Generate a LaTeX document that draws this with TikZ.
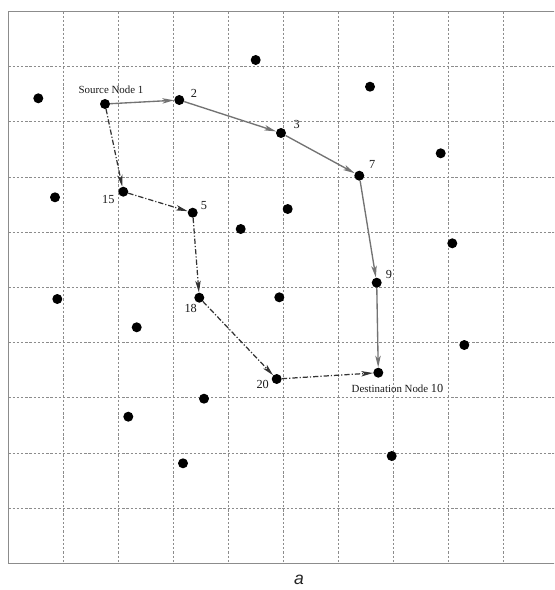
\documentclass[tikz,border=0pt]{standalone}
\usepackage{fontspec}
\setmainfont{Liberation Serif}
\setsansfont{Liberation Sans}
\usetikzlibrary{arrows.meta}

\begin{document}
\begin{tikzpicture}[x=0.03cm,y=-0.03cm,>={Stealth[length=10pt,width=4.6pt,inset=2.5pt]},
  dot/.style={circle,fill=black,inner sep=0pt,minimum size=0.3cm},
  gridline/.style={draw=black!45,line width=0.95pt,dash pattern=on 2pt off 1.6pt},
  greypath/.style={->,draw=black!55,line width=1.15pt},
  dotpath/.style={->,draw=black!80,line width=1.05pt,dash pattern=on 4.5pt off 1.7pt on 1pt off 1.7pt},
  lbl/.style={inner sep=0pt,text=black!90,font=\fontsize{9.3}{10}\selectfont},
  num/.style={inner sep=0pt,text=black!90,font=\fontsize{10.5}{12}\selectfont}]
  \def\s{55}      % grid step (x)
  \def\t{55.2}    % grid step (y)

  \useasboundingbox (0,0) rectangle (554,590);

  % ================= grid and frame =================
  \begin{scope}
    \clip (0,0) rectangle (554,590);
    \foreach \i in {1,...,9}
      \draw[gridline] ({8.3+\s*\i},11.5) -- ({8.3+\s*\i},563.5);
    \foreach \i in {1,...,9}
      \draw[gridline] (8.3,{11.5+\t*\i}) -- (558.3,{11.5+\t*\i});
    \draw[black!45,line width=1.1pt] (8.3,11.5) rectangle (558.3,563.5);
  \end{scope}

  % ================= sensor nodes =================
  \node[dot] (n1)  at (105,104) {};
  \node[dot] (n2)  at (179.3,100) {};
  \node[dot] (n3)  at (281,133) {};
  \node[dot] (n7)  at (359.3,175.7) {};
  \node[dot] (n9)  at (376.7,282.7) {};
  \node[dot] (n10) at (378.3,372.7) {};
  \node[dot] (n15) at (123.3,191.7) {};
  \node[dot] (n5)  at (192.7,212.7) {};
  \node[dot] (n18) at (199.3,297.7) {};
  \node[dot] (n20) at (276.7,379) {};

  % other nodes
  \node[dot] (d1)  at (38.3,98.3) {};
  \node[dot] (d2)  at (255.7,60) {};
  \node[dot] (d3)  at (370,86.7) {};
  \node[dot] (d4)  at (440.7,153.3) {};
  \node[dot] (d5)  at (55,197.3) {};
  \node[dot] (d6)  at (287.7,209) {};
  \node[dot] (d7)  at (240.7,229) {};
  \node[dot] (d8)  at (452.3,243.3) {};
  \node[dot] (d9)  at (57.3,299) {};
  \node[dot] (d10) at (279.3,297.3) {};
  \node[dot] (d11) at (136.7,327.3) {};
  \node[dot] (d12) at (464.3,345) {};
  \node[dot] (d13) at (204,398.7) {};
  \node[dot] (d14) at (128.3,416.7) {};
  \node[dot] (d15) at (391.7,456) {};
  \node[dot] (d16) at (183,463.3) {};

  % ================= labels =================
  \node[lbl] (l1)  at (111,90) {Source Node 1};
  \node[lbl] (l10) at (397.5,388.3) {Destination Node {\fontsize{10.5}{12}\selectfont 10}};
  \node[num] (l2)  at (194,93.3) {2};
  \node[num] (l3)  at (296.7,124) {3};
  \node[num] (l7)  at (372.3,164) {7};
  \node[num] (l9)  at (389,274.3) {9};
  \node[num] (l15) at (108.3,199) {15};
  \node[num] (l5)  at (204,205.7) {5};
  \node[num] (l18) at (190.7,308.3) {18};
  \node[num] (l20) at (262.7,384) {20};

  % ================= routes =================
  \draw[greypath] (n1) -- (n2);
  \draw[greypath] (n2) -- (n3);
  \draw[greypath] (n3) -- (n7);
  \draw[greypath] (n7) -- (n9);
  \draw[greypath] (n9) -- (n10);

  \draw[dotpath] (n1) -- (n15);
  \draw[dotpath] (n15) -- (n5);
  \draw[dotpath] (n5) -- (n18);
  \draw[dotpath] (n18) -- (n20);
  \draw[dotpath] (n20) -- (n10);

  \node[text=black!85,font=\sffamily\itshape\fontsize{15}{18}\selectfont] (cap) at (299,580) {a};
\end{tikzpicture}
\end{document}
